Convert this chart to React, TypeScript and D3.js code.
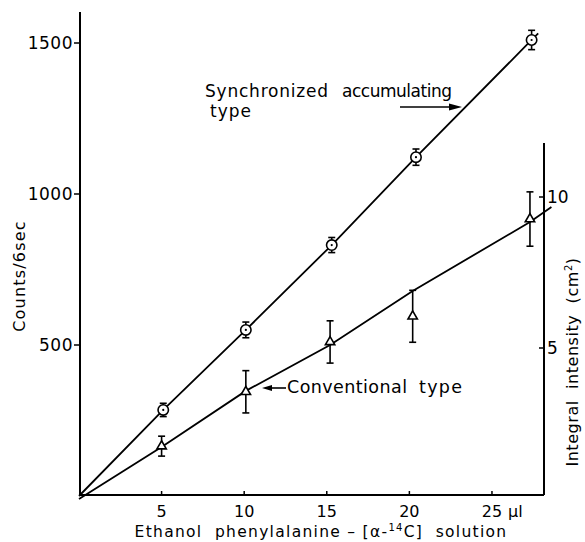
import * as d3 from 'd3';
import React from 'react';

// volume of solution (µl)
const syncX = [5.1, 10.1, 15.3, 20.4, 27.4];
const syncCounts = [285, 550, 831, 1122, 1510];
const syncErr = [22, 26, 25, 27, 32];
const syncLineX = [0, 5.1, 10.1, 15.3, 20.4, 27.4, 27.8];
const syncLineY = [0, 285, 550, 831, 1122, 1510, 1532];

const convX = [5.0, 10.1, 15.2, 20.2, 27.3];
const convIntensity = [1.75, 3.55, 5.2, 6.05, 9.27];
const convErr = [0.33, 0.7, 0.7, 0.86, 0.9];
const convLineX = [0, 5.0, 10.1, 15.2, 20.2, 27.3, 28.6];
const convLineY = [0, 1.72, 3.58, 5.1, 6.89, 9.17, 9.67];

const xTicks = [5, 10, 15, 20, 25];
const leftTicks = [500, 1000, 1500];
const rightTicks = [5, 10];

const W = 585;
const H = 542;
const FONT = "'DejaVu Sans', sans-serif";
const SP = '\u00a0';

const App = () => {
	const x = d3.scaleLinear().domain([0, 28.15]).range([79, 544]);
	const yL = d3.scaleLinear().domain([0, 1500]).range([496, 43]);
	const yR = d3.scaleLinear().domain([0, 10]).range([499, 197]);
	const x0 = x(0);
	const xEnd = x(28.15);
	const yBottom = 495;

	const syncLine = d3.line<number>()
		.x((d, i) => x(syncLineX[i]))
		.y((d) => yL(d));
	const convLine = d3.line<number>()
		.x((d, i) => x(convLineX[i]))
		.y((d) => yR(d));

	const tri = d3.symbol().type(d3.symbolTriangle).size(38)();

	const errBar = (cx: number, top: number, bot: number, key: string) => (
		<g key={key} stroke="#000" strokeWidth={1.6}>
			<line x1={cx} x2={cx} y1={top} y2={bot} />
			<line x1={cx - 3.5} x2={cx + 3.5} y1={top} y2={top} />
			<line x1={cx - 3.5} x2={cx + 3.5} y1={bot} y2={bot} />
		</g>
	);

	return (
		<svg width={W} height={H} style={{ position: 'absolute', left: 0, top: 0, background: '#fff' }}
			fontFamily={FONT}>
			<rect width={W} height={H} fill="#fff" />

			{/* axes */}
			<g stroke="#000" strokeWidth={2} fill="none">
				<line x1={x0 + 1} x2={x0 + 1} y1={12} y2={yBottom} />
				<line x1={x0} x2={xEnd} y1={yBottom} y2={yBottom} />
				<line x1={xEnd} x2={xEnd} y1={143} y2={yBottom} />
			</g>

			{xTicks.map((t) => (
				<g key={'x' + t}>
					<line x1={x(t)} x2={x(t)} y1={yBottom} y2={yBottom - 4} stroke="#000" strokeWidth={1.5} />
					<text x={x(t)} y={517} textAnchor="middle" fontSize={16}>{t}</text>
				</g>
			))}
			<text x={x(25) + 16} y={517} fontSize={16}>µl</text>

			{leftTicks.map((t) => (
				<g key={'l' + t}>
					<line x1={x0 + 1} x2={x0 - 5} y1={yL(t)} y2={yL(t)} stroke="#000" strokeWidth={1.5} />
					<text x={x0 - 6} y={yL(t) + 6} textAnchor="end" fontSize={17} letterSpacing={0.5}>{t}</text>
				</g>
			))}

			{rightTicks.map((t) => (
				<g key={'r' + t}>
					<line x1={xEnd} x2={xEnd - 5} y1={yR(t)} y2={yR(t)} stroke="#000" strokeWidth={1.5} />
					<text x={xEnd + 3} y={yR(t) + 6} fontSize={17}>{t}</text>
				</g>
			))}

			{/* axis titles */}
			<text transform="translate(25,276) rotate(-90)" textAnchor="middle" fontSize={16} letterSpacing={1.2}>
				Counts/6sec
			</text>
			<text transform="translate(578,362) rotate(-90)" textAnchor="middle" fontSize={16} letterSpacing={0.55}>
				{`Integral${SP}${SP}intensity${SP}${SP}(cm`}<tspan dy={-6} fontSize={10}>2</tspan><tspan dy={6}>)</tspan>
			</text>
			<text x={321} y={537} textAnchor="middle" fontSize={15.5} letterSpacing={1.3}>
				{`Ethanol${SP}${SP}phenylalanine – [α-`}<tspan dy={-6} fontSize={10}>14</tspan><tspan dy={6}>{`C]${SP}${SP}solution`}</tspan>
			</text>

			{/* fitted lines */}
			<path d={syncLine(syncLineY) || ''} fill="none" stroke="#000" strokeWidth={1.8} />
			<path d={convLine(convLineY) || ''} fill="none" stroke="#000" strokeWidth={1.8} />

			{/* synchronized accumulating points */}
			{syncX.map((v, i) => errBar(x(v), yL(syncCounts[i] + syncErr[i]), yL(syncCounts[i] - syncErr[i]), 'se' + i))}
			{syncX.map((v, i) => (
				<g key={'s' + i} transform={`translate(${x(v)},${yL(syncCounts[i])})`}>
					<circle r={5.2} fill="#fff" stroke="#000" strokeWidth={1.6} />
					<circle r={1.1} fill="#000" />
				</g>
			))}

			{/* conventional points */}
			{convX.map((v, i) => errBar(x(v), yR(convIntensity[i] + convErr[i]), yR(convIntensity[i] - convErr[i]), 'ce' + i))}
			{convX.map((v, i) => (
				<path key={'c' + i} d={tri || ''} transform={`translate(${x(v)},${yR(convIntensity[i])})`}
					fill="#fff" stroke="#000" strokeWidth={1.6} />
			))}

			{/* annotations */}
			<text x={205} y={97} fontSize={17} textLength={123} lengthAdjust="spacing">Synchronized</text>
			<text x={342} y={97} fontSize={17} textLength={110} lengthAdjust="spacing">accumulating</text>
			<text x={210} y={117} fontSize={17} textLength={41} lengthAdjust="spacing">type</text>
			<line x1={400} x2={452} y1={107} y2={107} stroke="#000" strokeWidth={1.6} />
			<path d="M462,107 L449,103.5 L449,110.5 Z" fill="#000" />

			<text x={287} y={393} fontSize={17.5} textLength={120} lengthAdjust="spacing">Conventional</text>
			<text x={419} y={393} fontSize={17.5} textLength={43} lengthAdjust="spacing">type</text>
			<line x1={270} x2={286} y1={388} y2={388} stroke="#000" strokeWidth={1.6} />
			<path d="M262,388 L272,385 L272,391 Z" fill="#000" />
		</svg>
	);
};

export default App;
